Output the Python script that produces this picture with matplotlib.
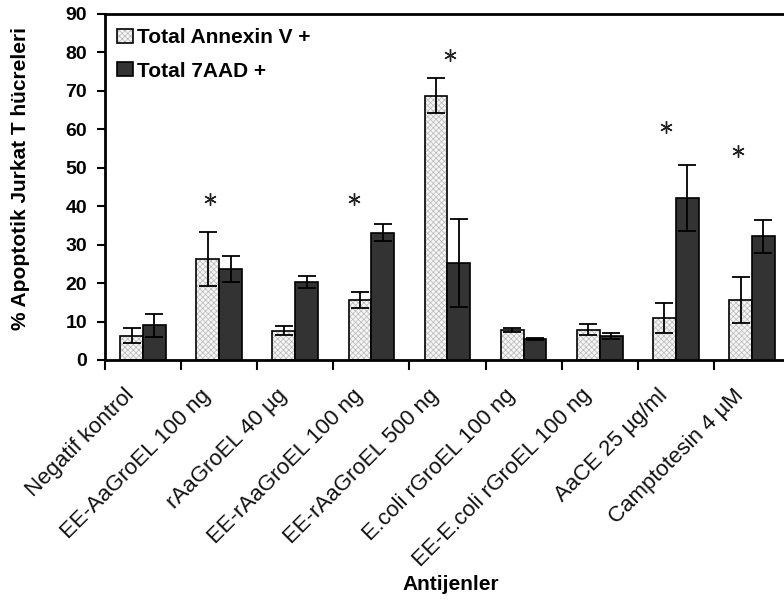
import matplotlib
matplotlib.use("Agg")
import matplotlib.pyplot as plt
import matplotlib.transforms as mtransforms
from matplotlib.patches import Patch
from matplotlib.legend_handler import HandlerTuple
import numpy as np

plt.rcParams['font.family'] = ['Liberation Sans', 'DejaVu Sans']

categories = ["Negatif kontrol", "EE-AaGroEL 100 ng", "rAaGroEL 40 µg",
              "EE-rAaGroEL 100 ng", "EE-rAaGroEL 500 ng", "E.coli rGroEL 100 ng",
              "EE-E.coli rGroEL 100 ng", "AaCE 25 µg/ml", "Camptotesin 4 µM"]
annexin = [6.3, 26.2, 7.6, 15.6, 68.8, 7.8, 7.9, 10.9, 15.6]
annexin_err = [1.9, 7.0, 1.2, 2.1, 4.5, 0.4, 1.4, 4.0, 6.0]
aad = [9.0, 23.6, 20.3, 33.1, 25.2, 5.5, 6.3, 42.1, 32.2]
aad_err = [3.0, 3.4, 1.6, 2.2, 11.5, 0.3, 0.8, 8.5, 4.3]
star_idx = [1, 3, 4, 7, 8]
star_dx = [-0.12, -0.225, 0.03, -0.13, -0.18]
star_y = [41.9, 41.9, 79.3, 60.7, 54.4]
series_names = ["Total Annexin V +", "Total 7AAD +"]
yticks = list(range(0, 91, 10))

W, H = 784, 602
fig = plt.figure(figsize=(W / 100, H / 100), dpi=100)
x0, x1, y0, y1 = 105, 790, 14, 360
ax = fig.add_axes([x0 / W, 1 - y1 / H, (x1 - x0) / W, (y1 - y0) / H])

x = np.arange(len(categories))
bw = 0.30
plt.rcParams['hatch.linewidth'] = 0.5
hatch_face, hatch_col, hatch_pat = '#f5f5f5', '#b8b8b8', 'xxxxxx'

ax.bar(x - bw / 2, annexin, bw, color=hatch_face, edgecolor=hatch_col,
       hatch=hatch_pat, linewidth=0, zorder=2)
ax.bar(x - bw / 2, annexin, bw, fill=False, edgecolor='black',
       linewidth=1.2, zorder=3)
ax.bar(x + bw / 2, aad, bw, color='#333333', edgecolor='black',
       linewidth=1.2, zorder=3)
ax.errorbar(x - bw / 2, annexin, yerr=annexin_err, fmt='none', ecolor='black',
            elinewidth=1.3, capsize=6.5, capthick=1.3, zorder=4)
ax.errorbar(x + bw / 2, aad, yerr=aad_err, fmt='none', ecolor='black',
            elinewidth=1.3, capsize=6.5, capthick=1.3, zorder=4)

for i, dx, yv in zip(star_idx, star_dx, star_y):
    ax.plot(i + dx, yv, marker=(6, 2, 0), markersize=9, markeredgewidth=1.0,
            color='#222222', linestyle='none', zorder=5)

ax.set_xlim(-0.5, len(categories) - 0.5)
ax.set_ylim(0, 90)
ax.set_yticks(yticks)
ax.set_yticklabels([str(t) for t in yticks], fontsize=14, fontweight='bold')
ax.tick_params(axis='y', direction='out', length=6, width=1.5, pad=7)
ax.set_xticks(np.arange(len(categories) + 1) - 0.5)
ax.set_xticklabels([])
ax.tick_params(axis='x', direction='out', length=7, width=1.5)
for s in ['left', 'bottom', 'top']:
    ax.spines[s].set_linewidth(2)
ax.spines['right'].set_visible(False)

for i, lab in enumerate(categories):
    tr = mtransforms.blended_transform_factory(ax.transData, ax.transAxes) + \
        mtransforms.ScaledTranslation(-19 / 100, -25 / 100, fig.dpi_scale_trans)
    ax.text(i, 0, lab, transform=tr, rotation=45, ha='right', va='top',
            rotation_mode='anchor', fontsize=16, color='#111111')

fig.text(451 / W, 1 - 585 / H, "Antijenler", ha='center', va='center',
         fontsize=15, fontweight='bold')
fig.text(21 / W, 1 - 178 / H, "% Apoptotik Jurkat T hücreleri", rotation=90,
         ha='center', va='center', fontsize=15, fontweight='bold')

h1 = (Patch(facecolor=hatch_face, edgecolor=hatch_col, hatch=hatch_pat, linewidth=0),
      Patch(fill=False, edgecolor='black', linewidth=1.2))
h2 = Patch(facecolor='#333333', edgecolor='black', linewidth=1.2)
ax.legend([h1, h2], series_names, loc='upper left',
          bbox_to_anchor=(117 / W, 1 - 28 / H), bbox_transform=fig.transFigure,
          frameon=False, borderpad=0, borderaxespad=0, handlelength=0.75,
          handleheight=0.65, handletextpad=0.2, labelspacing=0.7,
          prop={'size': 15, 'weight': 'bold'},
          handler_map={tuple: HandlerTuple(ndivide=1)})

fig.savefig("out.png", dpi=100)
